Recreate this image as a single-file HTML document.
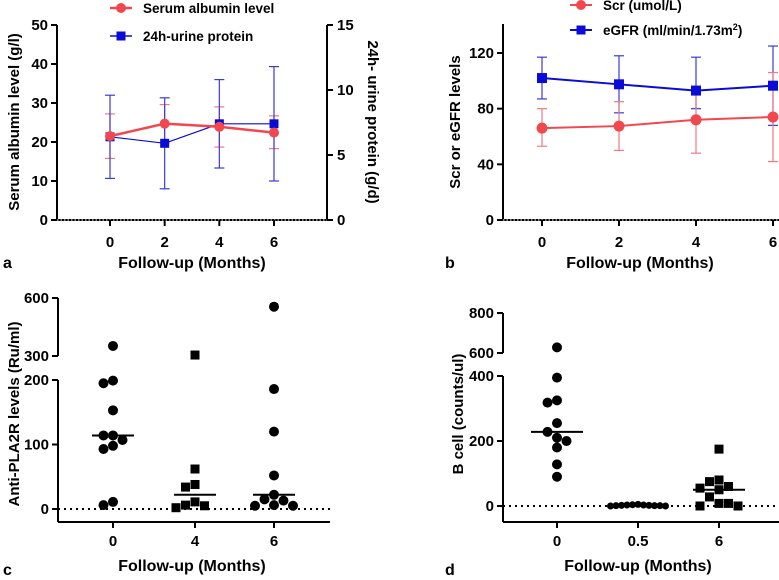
<!DOCTYPE html>
<html><head><meta charset="utf-8"><style>
html,body{margin:0;padding:0;background:#fff;}
svg{display:block;font-family:"Liberation Sans",Arial,sans-serif;font-weight:bold;}
</style></head><body>
<svg id="fig" width="779" height="580" viewBox="0 0 779 580" xmlns="http://www.w3.org/2000/svg"></svg>
<script>
// ---------- Panel a data ----------
const aMonths = [0, 2, 4, 6];
const aAlbumin = [21.5, 24.7, 23.9, 22.4];
const aAlbuminLo = [15.8, 19.8, 18.7, 18.3];
const aAlbuminHi = [27.2, 29.6, 29.0, 26.7];
const aProtein = [6.4, 5.9, 7.4, 7.4];
const aProteinLo = [3.2, 2.4, 4.0, 3.0];
const aProteinHi = [9.6, 9.4, 10.8, 11.8];
const aLeftTicks = [0, 10, 20, 30, 40, 50];
const aRightTicks = [0, 5, 10, 15];
// ---------- Panel b data ----------
const bMonths = [0, 2, 4, 6];
const bScr = [66, 67.5, 72, 74];
const bScrLo = [53, 50, 48, 42];
const bScrHi = [80, 85, 95, 106];
const bEgfr = [102, 97.5, 93, 96.5];
const bEgfrLo = [87, 77, 80, 68];
const bEgfrHi = [117, 118, 117, 125];
const bTicks = [0, 40, 80, 120];
// ---------- Panel c data ----------
const cGroups = ["0", "4", "6"];
const cVals0 = [352, 199, 195, 153, 114, 114, 107, 98, 93, 11, 6];
const cVals4 = [305, 62, 38, 34, 11, 6, 5, 2];
const cVals6 = [555, 186, 120, 52, 22, 15, 13, 6, 5, 5];
const cMedians = [114, 22, 22];
const cLowTicks = [0, 100, 200];
const cHighTicks = [300, 600];
// ---------- Panel d data ----------
const dGroups = ["0", "0.5", "6"];
const dVals0 = [628, 395, 325, 318, 255, 228, 210, 200, 180, 128, 90];
const dVals05 = [5, 4, 3, 3, 2, 2, 1, 1, 1, 0, 0];
const dVals6 = [175, 80, 75, 60, 55, 50, 28, 8, 8, 0, 0];
const dMedians = [228, 0, 50];
const dLowTicks = [0, 200, 400];
const dHighTicks = [600, 800];

const NS = "http://www.w3.org/2000/svg";
const svg = document.getElementById("fig");
function mk(tag, attrs, parent) {
  const e = document.createElementNS(NS, tag);
  for (const k in attrs) e.setAttribute(k, attrs[k]);
  (parent || svg).appendChild(e);
  return e;
}
function line(x1, y1, x2, y2, stroke, w, name, extra) {
  const e = mk("line", Object.assign({x1, y1, x2, y2, stroke, "stroke-width": w}, extra || {}));
  
  
  return e;
}
function text(x, y, s, size, name, anchor, extra) {
  const e = mk("text", Object.assign({x, y, "font-size": size, "text-anchor": anchor || "middle", fill: "#000"}, extra || {}));
  e.textContent = s;
  
  
  return e;
}
function circle(cx, cy, r, fill, name) {
  const e = mk("circle", {cx, cy, r, fill});
  
  
  return e;
}
function square(cx, cy, s, fill, name) {
  const e = mk("rect", {x: cx - s / 2, y: cy - s / 2, width: s, height: s, fill});
  
  
  return e;
}
function poly(pts, stroke, w, name) {
  const e = mk("polyline", {points: pts.map(p => p.join(",")).join(" "), fill: "none", stroke, "stroke-width": w});
  
  
  return e;
}
function errbar(x, y1, y2, color, name) {
  line(x, y1, x, y2, color, 1.2, name);
  line(x - 5, y1, x + 5, y1, color, 1.2, name + "-cap-low");
  line(x - 5, y2, x + 5, y2, color, 1.2, name + "-cap-high");
}
const RED = "#f0484e", BLUE = "#0b0bd8";

// ================= Panel a =================
(function () {
  const L = 57, R = 327, Y0 = 220, Y1 = 25;
  const xs = m => 110 + (m - 0) * (274 - 110) / 6;
  const yl = v => Y0 - v * (Y0 - Y1) / 50;
  const yr = v => Y0 - v * (Y0 - Y1) / 15;
  line(L, Y1, L, Y0, "#000", 2, "a-left-axis");
  line(R, Y1, R, Y0, "#000", 2, "a-right-axis");
  line(L, Y0, R, Y0, "#000", 2, "a-x-axis");
  line(L, Y0, R, Y0, "#fff", 1, "a-zero-dotted-line", {"stroke-dasharray": "1.5 2"});
  aLeftTicks.forEach(t => { line(L - 6, yl(t), L, yl(t), "#000", 2, "a-left-tick"); text(L - 9, yl(t) + 5, t, 15, "a-left-tick-label", "end"); });
  aRightTicks.forEach(t => { line(R, yr(t), R + 6, yr(t), "#000", 2, "a-right-tick"); text(R + 10, yr(t) + 5, t, 15, "a-right-tick-label", "start"); });
  aMonths.forEach(m => { line(xs(m), Y0, xs(m), Y0 + 6, "#000", 2, "a-x-tick"); text(xs(m), 247, m, 15, "a-x-tick-label"); });
  text(19, 122, "Serum albumin level (g/l)", 15, "a-left-axis-title", "middle", {transform: "rotate(-90 19 122)"});
  text(368, 122, "24h- urine protein (g/d)", 15, "a-right-axis-title", "middle", {transform: "rotate(90 368 122)"});
  text(192, 268, "Follow-up (Months)", 16, "a-x-axis-title");
  text(3, 268, "a", 16, "a-panel-label", "start");
  aMonths.forEach((m, i) => errbar(xs(m), yl(aAlbuminLo[i]), yl(aAlbuminHi[i]), "#f07a80", "a-albumin-error"));
  aMonths.forEach((m, i) => errbar(xs(m), yr(aProteinLo[i]), yr(aProteinHi[i]), "#3a3ae0", "a-protein-error"));
  poly(aMonths.map((m, i) => [xs(m), yr(aProtein[i])]), BLUE, 1.2, "a-protein-line");
  aMonths.forEach((m, i) => square(xs(m), yr(aProtein[i]), 9, BLUE, "a-protein-point"));
  poly(aMonths.map((m, i) => [xs(m), yl(aAlbumin[i])]), RED, 2.5, "a-albumin-line");
  aMonths.forEach((m, i) => circle(xs(m), yl(aAlbumin[i]), 5, RED, "a-albumin-point"));
  line(110, 8, 132, 8, RED, 2.5, "a-legend-albumin-line"); circle(121, 8, 5, RED, "a-legend-albumin-marker");
  text(143, 13, "Serum albumin level", 13.5, "a-legend-albumin-label", "start");
  line(110, 36, 132, 36, BLUE, 1.5, "a-legend-protein-line"); square(121, 36, 9, BLUE, "a-legend-protein-marker");
  text(143, 41, "24h-urine protein", 13.5, "a-legend-protein-label", "start");
})();

// ================= Panel b =================
(function () {
  const L = 503, R = 779, Y0 = 220, Y1 = 24;
  const xs = m => 542 + m * (773 - 542) / 6;
  const y = v => Y0 - v * (Y0 - 53) / 120;
  line(L, Y1, L, Y0, "#000", 2, "b-y-axis");
  line(L, Y0, R, Y0, "#000", 2, "b-x-axis");
  line(L, Y0, R, Y0, "#fff", 1, "b-zero-dotted-line", {"stroke-dasharray": "1.5 2"});
  bTicks.forEach(t => { line(L - 6, y(t), L, y(t), "#000", 2, "b-y-tick"); text(L - 9, y(t) + 5, t, 15, "b-y-tick-label", "end"); });
  bMonths.forEach(m => { line(xs(m), Y0, xs(m), Y0 + 6, "#000", 2, "b-x-tick"); text(xs(m), 247, m, 15, "b-x-tick-label"); });
  text(460, 122, "Scr or eGFR levels", 15, "b-y-axis-title", "middle", {transform: "rotate(-90 460 122)"});
  text(640, 268, "Follow-up (Months)", 16, "b-x-axis-title");
  text(445, 268, "b", 16, "b-panel-label", "start");
  bMonths.forEach((m, i) => errbar(xs(m), y(bEgfrLo[i]), y(bEgfrHi[i]), "#3a3ae0", "b-egfr-error"));
  bMonths.forEach((m, i) => errbar(xs(m), y(bScrLo[i]), y(bScrHi[i]), "#f07a80", "b-scr-error"));
  poly(bMonths.map((m, i) => [xs(m), y(bEgfr[i])]), BLUE, 2, "b-egfr-line");
  bMonths.forEach((m, i) => square(xs(m), y(bEgfr[i]), 10, BLUE, "b-egfr-point"));
  poly(bMonths.map((m, i) => [xs(m), y(bScr[i])]), RED, 2, "b-scr-line");
  bMonths.forEach((m, i) => circle(xs(m), y(bScr[i]), 5.5, RED, "b-scr-point"));
  line(570, 5, 592, 5, RED, 2, "b-legend-scr-line"); circle(581, 5, 5, RED, "b-legend-scr-marker");
  text(603, 10, "Scr (umol/L)", 13.5, "b-legend-scr-label", "start");
  line(570, 30, 592, 30, BLUE, 2, "b-legend-egfr-line"); square(581, 30, 9, BLUE, "b-legend-egfr-marker");
  const lt = text(603, 35, "eGFR (ml/min/1.73m", 13.5, "b-legend-egfr-label", "start");
  const sup = mk("tspan", {dy: -5, "font-size": 9}, lt); sup.textContent = "2";
  const cl = mk("tspan", {dy: 5}, lt); cl.textContent = ")";
})();

// ========== scatter helper ==========
function swarm(vals, cx, yf, d) {
  const placed = [];
  return vals.map(v => {
    const py = yf(v);
    let k = 0, x;
    while (true) {
      const off = (k === 0 ? 0 : (k % 2 ? -1 : 1) * Math.ceil(k / 2)) * d;
      x = cx + off;
      if (!placed.some(p => Math.hypot(p[0] - x, p[1] - py) < d)) break;
      k++;
    }
    placed.push([x, py]);
    return [x, py];
  });
}

// ================= Panel c =================
(function () {
  const L = 58, R = 330, YB = 522;
  const xs = [113, 195, 274];
  const y = v => v <= 200 ? 509 - v * (509 - 380) / 200 : 356 - (v - 300) * (356 - 298) / 300;
  line(L, 380, L, YB, "#000", 2, "c-y-axis-lower");
  line(L, 298, L, 356, "#000", 2, "c-y-axis-upper");
  line(L, YB, R, YB, "#000", 2, "c-x-axis");
  line(L, 509, R, 509, "#000", 2, "c-zero-dotted-line", {"stroke-dasharray": "2 4"});
  cLowTicks.concat(cHighTicks).forEach(t => { line(L - 6, y(t), L, y(t), "#000", 2, "c-y-tick"); text(L - 9, y(t) + 5, t, 15, "c-y-tick-label", "end"); });
  cGroups.forEach((g, i) => { line(xs[i], YB, xs[i], YB + 6, "#000", 2, "c-x-tick"); text(xs[i], 546, g, 15, "c-x-tick-label"); });
  text(19, 414, "Anti-PLA2R levels (Ru/ml)", 15, "c-y-axis-title", "middle", {transform: "rotate(-90 19 414)"});
  text(192, 571, "Follow-up (Months)", 16, "c-x-axis-title");
  text(3, 575, "c", 16, "c-panel-label", "start");
  swarm(cVals0, xs[0], y, 9.5).forEach(p => circle(p[0], p[1], 5, "#000", "c-point-month0"));
  swarm(cVals4, xs[1], y, 9.5).forEach(p => square(p[0], p[1], 9, "#000", "c-point-month4"));
  swarm(cVals6, xs[2], y, 9.5).forEach(p => circle(p[0], p[1], 5, "#000", "c-point-month6"));
  cMedians.forEach((m, i) => line(xs[i] - 21, y(m), xs[i] + 21, y(m), "#000", 2, "c-median-line"));
})();

// ================= Panel d =================
(function () {
  const L = 503, R = 779, YB = 522;
  const xs = [557, 638, 719];
  const y = v => v <= 400 ? 506 - v * (506 - 376) / 400 : 353 - (v - 600) * (353 - 313) / 200;
  line(L, 376, L, YB, "#000", 2, "d-y-axis-lower");
  line(L, 313, L, 353, "#000", 2, "d-y-axis-upper");
  line(L, YB, R, YB, "#000", 2, "d-x-axis");
  line(L, 506, R, 506, "#000", 2, "d-zero-dotted-line", {"stroke-dasharray": "2 4"});
  dLowTicks.concat(dHighTicks).forEach(t => { line(L - 6, y(t), L, y(t), "#000", 2, "d-y-tick"); text(L - 9, y(t) + 5, t, 15, "d-y-tick-label", "end"); });
  dGroups.forEach((g, i) => { line(xs[i], YB, xs[i], YB + 6, "#000", 2, "d-x-tick"); text(xs[i], 546, g, 15, "d-x-tick-label"); });
  text(463, 414, "B cell (counts/ul)", 15, "d-y-axis-title", "middle", {transform: "rotate(-90 463 414)"});
  text(638, 571, "Follow-up (Months)", 16, "d-x-axis-title");
  text(445, 575, "d", 16, "d-panel-label", "start");
  swarm(dVals0, xs[0], y, 9.5).forEach(p => circle(p[0], p[1], 5, "#000", "d-point-month0"));
  swarm(dVals05, xs[1], y, 5.5).forEach(p => circle(p[0], p[1], 3.5, "#000", "d-point-month05"));
  swarm(dVals6, xs[2], y, 9.5).forEach(p => square(p[0], p[1], 9, "#000", "d-point-month6"));
  dMedians.forEach((m, i) => line(xs[i] - 26, y(m), xs[i] + 26, y(m), "#000", 2, "d-median-line"));
})();
</script>
</body></html>
